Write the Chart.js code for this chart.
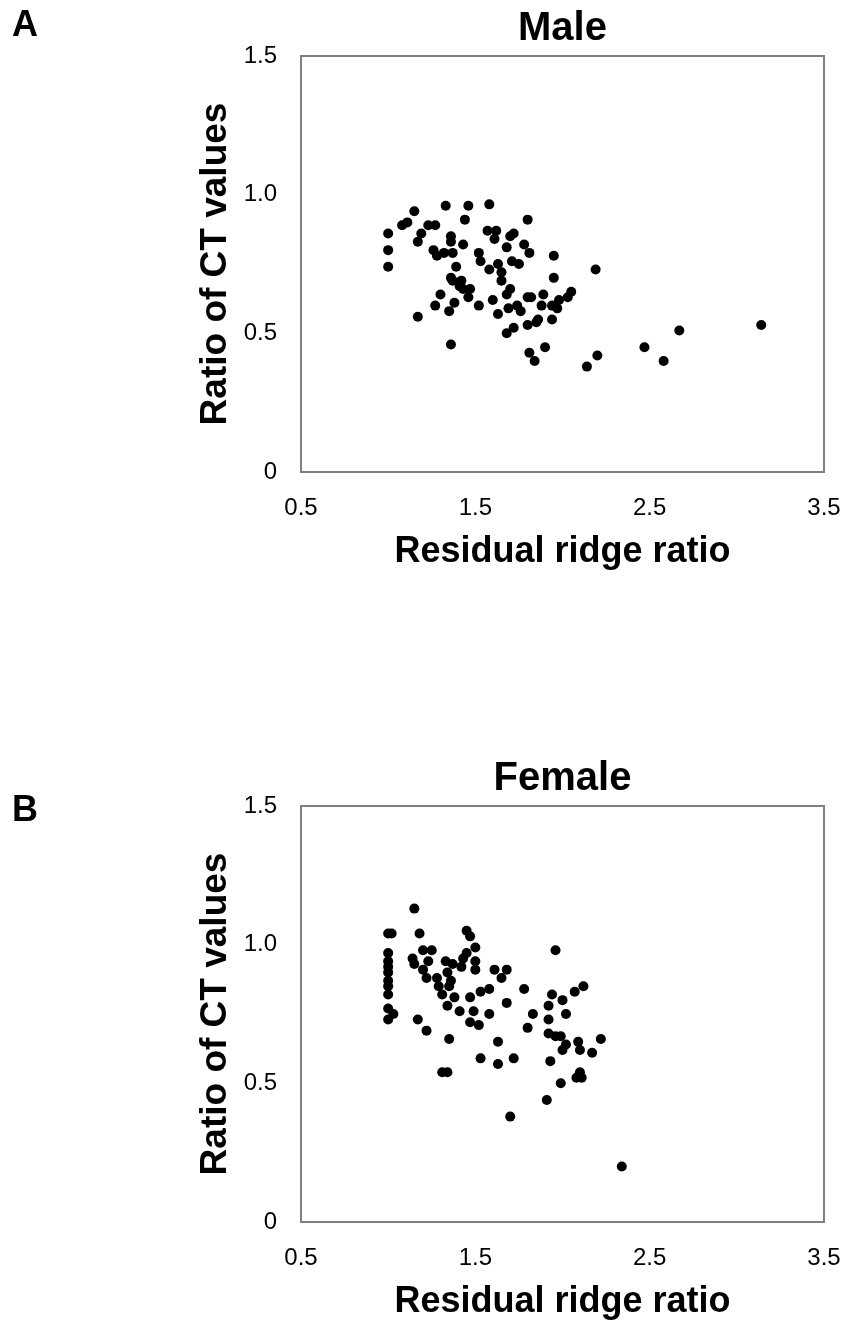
<!DOCTYPE html>
<html>
<head>
<meta charset="utf-8">
<script src="https://cdn.jsdelivr.net/npm/chart.js@4.4.1/dist/chart.umd.min.js"></script>
<style>
  body { margin: 0; background: #fff; overflow: hidden; width: 847px; height: 1324px; position: relative; }
  .panel { position: absolute; left: 0; width: 847px; height: 600px; }
  .letter { position: absolute; left: 12px; font: bold 36px 'Liberation Sans', Arial, sans-serif; color: #000; }
</style>
</head>
<body>
<div class="panel" style="top:0"><canvas id="maleChart" width="847" height="600"></canvas></div>
<div class="panel" style="top:750px"><canvas id="femaleChart" width="847" height="600"></canvas></div>
<div class="letter" style="top:3px">A</div>
<div class="letter" style="top:788px">B</div>
<script>
// tick values shown on both panels
var xTicks = [0.5, 1.5, 2.5, 3.5];
var yTicks = [0, 0.5, 1.0, 1.5];
var yTickLabels = ['0', '0.5', '1.0', '1.5'];

// Male: residual ridge ratio vs ratio of CT values
var maleX = [1.33, 1.46, 1.58, 1.15, 1.11, 1.08, 1.23, 1.27, 1.44, 1.80,
  1.00, 1.00, 1.00, 1.19, 1.17, 1.36, 1.36, 1.43, 1.26, 1.28,
  1.32, 1.37, 1.57, 1.62, 1.61, 1.70, 1.72, 1.68, 1.78, 1.81,
  1.52, 1.53, 1.58, 1.63, 1.71, 1.75, 1.39, 1.36, 1.37, 1.42,
  1.41, 1.47, 1.46, 1.43, 1.65, 1.65, 1.70, 1.68, 1.30, 1.38,
  1.35, 1.27, 1.52, 1.60, 1.63, 1.69, 1.74, 1.76, 1.80, 1.82,
  1.89, 1.88, 1.17, 1.68, 1.72, 1.80, 1.85, 1.86, 1.36, 1.81,
  1.84, 1.90, 1.95, 2.19, 1.95, 2.05, 2.03, 1.98, 1.94, 1.97,
  1.94, 2.20, 2.14, 2.47, 2.67, 2.58, 3.14];
var maleY = [0.96, 0.96, 0.965, 0.94, 0.90, 0.89, 0.89, 0.89, 0.91, 0.91,
  0.86, 0.80, 0.74, 0.86, 0.83, 0.85, 0.83, 0.82, 0.80, 0.78,
  0.79, 0.79, 0.87, 0.87, 0.84, 0.85, 0.86, 0.81, 0.82, 0.79,
  0.79, 0.76, 0.73, 0.75, 0.76, 0.75, 0.74, 0.70, 0.69, 0.69,
  0.67, 0.66, 0.63, 0.66, 0.72, 0.69, 0.66, 0.64, 0.64, 0.61,
  0.58, 0.60, 0.60, 0.62, 0.57, 0.59, 0.60, 0.58, 0.63, 0.63,
  0.64, 0.60, 0.56, 0.50, 0.52, 0.53, 0.54, 0.55, 0.46, 0.43,
  0.40, 0.45, 0.78, 0.73, 0.70, 0.65, 0.63, 0.62, 0.60, 0.59,
  0.55, 0.42, 0.38, 0.45, 0.51, 0.40, 0.53];

// Female
var femaleX = [1.15, 1.00, 1.02, 1.18, 1.45, 1.47, 1.50, 1.00, 1.00, 1.00,
  1.00, 1.00, 1.00, 1.00, 1.00, 1.03, 1.00, 1.14, 1.15, 1.20,
  1.25, 1.23, 1.20, 1.22, 1.28, 1.29, 1.31, 1.33, 1.37, 1.34,
  1.36, 1.35, 1.43, 1.45, 1.50, 1.50, 1.42, 1.38, 1.34, 1.47,
  1.53, 1.58, 1.61, 1.68, 1.65, 1.78, 1.68, 1.41, 1.49, 1.58,
  1.47, 1.52, 1.17, 1.22, 1.83, 1.80, 1.35, 1.63, 1.53, 1.63,
  1.72, 1.31, 1.34, 1.96, 2.12, 2.07, 1.94, 2.00, 1.92, 1.92,
  2.02, 1.92, 1.96, 1.99, 2.02, 2.00, 2.09, 2.10, 2.17, 2.22,
  1.93, 2.10, 2.08, 2.11, 1.99, 1.91, 1.70, 2.34];
var femaleY = [1.13, 1.04, 1.04, 1.04, 1.05, 1.03, 0.99, 0.97, 0.94, 0.92,
  0.90, 0.87, 0.85, 0.82, 0.77, 0.75, 0.73, 0.95, 0.93, 0.98,
  0.98, 0.94, 0.91, 0.88, 0.88, 0.85, 0.82, 0.94, 0.93, 0.90,
  0.87, 0.85, 0.95, 0.97, 0.94, 0.91, 0.92, 0.81, 0.78, 0.81,
  0.83, 0.84, 0.91, 0.91, 0.88, 0.84, 0.79, 0.76, 0.76, 0.75,
  0.72, 0.71, 0.73, 0.69, 0.75, 0.70, 0.66, 0.65, 0.59, 0.57,
  0.59, 0.54, 0.54, 0.98, 0.85, 0.83, 0.82, 0.80, 0.78, 0.73,
  0.75, 0.68, 0.67, 0.67, 0.64, 0.62, 0.65, 0.62, 0.61, 0.66,
  0.58, 0.54, 0.52, 0.52, 0.50, 0.44, 0.38, 0.20];

var FONT = "'Liberation Sans', Arial, sans-serif";

// box around the plot area
var frame = {
  id: 'frame',
  afterDraw: function (chart) {
    var a = chart.chartArea, c = chart.ctx;
    c.save();
    c.strokeStyle = '#7f7f7f';
    c.lineWidth = 2;
    c.strokeRect(a.left, a.top, a.right - a.left, a.bottom - a.top);
    c.restore();
  }
};

function makeChart(id, title, xs, ys) {
  var pts = xs.map(function (x, i) { return { x: x, y: ys[i] }; });
  return new Chart(document.getElementById(id), {
    type: 'scatter',
    data: {
      datasets: [{
        data: pts,
        backgroundColor: '#000',
        borderWidth: 0,
        pointRadius: 5,
        pointHoverRadius: 5
      }]
    },
    options: {
      responsive: false,
      animation: false,
      layout: { padding: { left: 190, right: 23, top: 0, bottom: 0 } },
      plugins: {
        legend: { display: false },
        tooltip: { enabled: false },
        title: {
          display: true,
          fullSize: false,
          text: title,
          color: '#000',
          font: { family: FONT, size: 40, weight: 'bold' },
          padding: { top: 5, bottom: 3 }
        }
      },
      scales: {
        x: {
          type: 'linear',
          min: 0.5, max: 3.5,
          afterBuildTicks: function (s) { s.ticks = xTicks.map(function (v) { return { value: v }; }); },
          afterFit: function (s) { s.height = 128; },
          // invisible tick marks give the label gap without widening the right margin
          grid: { display: true, drawOnChartArea: false, drawTicks: true, tickLength: 22, color: 'rgba(0,0,0,0)' },
          border: { display: false },
          ticks: {
            color: '#000', padding: 0,
            font: { family: FONT, size: 24 },
            callback: function (v) { return v.toFixed(1); }
          },
          title: {
            display: true, text: 'Residual ridge ratio', color: '#000',
            font: { family: FONT, size: 36, weight: 'bold' },
            padding: { top: 0, bottom: 26 }
          }
        },
        y: {
          type: 'linear',
          min: 0, max: 1.5,
          afterBuildTicks: function (s) { s.ticks = yTicks.map(function (v) { return { value: v }; }); },
          afterFit: function (s) { s.width = 111; },
          grid: { display: false, drawTicks: false },
          border: { display: false },
          ticks: {
            color: '#000', padding: 24,
            font: { family: FONT, size: 24 },
            callback: function (v) { return yTickLabels[yTicks.indexOf(v)]; }
          },
          title: {
            display: true, text: 'Ratio of CT values', color: '#000',
            font: { family: FONT, size: 37, weight: 'bold' },
            padding: { top: 4, bottom: 0 }
          }
        }
      }
    },
    plugins: [frame]
  });
}

makeChart('maleChart', 'Male', maleX, maleY);
makeChart('femaleChart', 'Female', femaleX, femaleY);
</script>
</body>
</html>
